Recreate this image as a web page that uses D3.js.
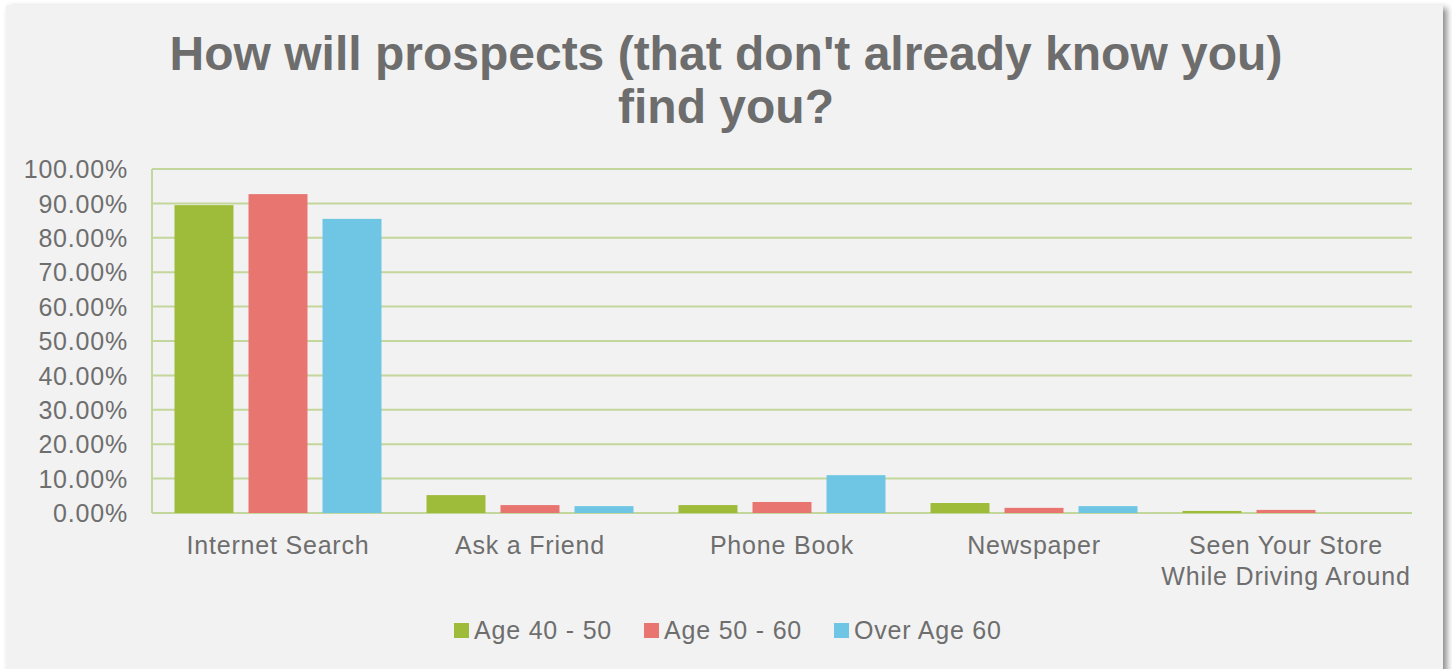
<!DOCTYPE html>
<html><head><meta charset="utf-8">
<script src="https://cdn.jsdelivr.net/npm/d3@7"></script>
<style>
html,body{margin:0;padding:0;background:#fff;overflow:hidden;}
svg{display:block;}
text{font-family:"Liberation Sans",Arial,sans-serif;}
</style></head>
<body>
<svg id="chart" width="1452" height="669"></svg>
<script>
const categories = ["Internet Search", "Ask a Friend", "Phone Book", "Newspaper", "Seen Your Store While Driving Around"];
const seriesNames = ["Age 40 - 50", "Age 50 - 60", "Over Age 60"];
const age40to50 = [0.895, 0.052, 0.023, 0.029, 0.006];
const age50to60 = [0.927, 0.023, 0.032, 0.015, 0.009];
const over60    = [0.855, 0.020, 0.110, 0.020, 0.000];
const yTicks = [0, 0.1, 0.2, 0.3, 0.4, 0.5, 0.6, 0.7, 0.8, 0.9, 1.0];
const colors = ["#9fbb3a", "#e8756f", "#6fc6e4"];
const titleLines = ["How will prospects (that don't already know you)", "find you?"];

const series = [age40to50, age50to60, over60];
const svg = d3.select("#chart");
const FS = 25, LS = 0.8;

// background panel with shadow
const defs = svg.append("defs");
const f = defs.append("filter").attr("id","sh").attr("x","-5%").attr("y","-5%").attr("width","110%").attr("height","110%");
f.append("feDropShadow").attr("dx",4).attr("dy",3).attr("stdDeviation",3).attr("flood-color","#000").attr("flood-opacity",0.45);
svg.append("rect").attr("x",6).attr("y",5).attr("width",1437).attr("height",700)
  .attr("fill","#f2f2f2").attr("filter","url(#sh)");

// title
svg.append("text").attr("x",726).attr("text-anchor","middle")
  .attr("font-size",48).attr("font-weight","bold").attr("fill","#6d6d6d")
  .selectAll("tspan").data(titleLines).join("tspan")
  .attr("x",726).attr("y",(d,i)=>70+i*53).text(d=>d);

const pLeft=152, pRight=1412, pTop=169, pBottom=513;
const x0 = d3.scaleBand().domain(categories).range([pLeft,pRight]).paddingInner(0).paddingOuter(0);
const x1 = d3.scaleBand().domain(d3.range(3)).range([0,x0.bandwidth()]).paddingInner(0.203).paddingOuter(0.304);
const y = d3.scaleLinear().domain([0,1]).range([pBottom,pTop]);

// gridlines
svg.append("g").selectAll("line").data(yTicks).join("line")
  .attr("x1",pLeft).attr("x2",pRight).attr("y1",d=>y(d)).attr("y2",d=>y(d))
  .attr("stroke","#c3d69b").attr("stroke-width",2);
// left axis line
svg.append("line").attr("x1",pLeft).attr("x2",pLeft).attr("y1",pTop).attr("y2",pBottom)
  .attr("stroke","#c3d69b").attr("stroke-width",2);

// y axis labels
const yAxis = d3.axisLeft(y).tickValues(yTicks).tickFormat(d=>(d*100).toFixed(2)+"%").tickSize(0).tickPadding(24);
const ya = svg.append("g").attr("transform",`translate(${pLeft},0)`).call(yAxis);
ya.select(".domain").remove();
ya.selectAll("text").attr("font-size",FS).attr("letter-spacing",LS).attr("fill","#6e6e6e")
  .attr("font-family","Liberation Sans, Arial, sans-serif").attr("dy","0.35em");

// bars
const g = svg.append("g");
categories.forEach((c,ci)=>{
  g.selectAll(null).data(series.map((s,si)=>({si,v:s[ci]}))).join("rect")
    .attr("x",d=>x0(c)+x1(d.si)).attr("width",x1.bandwidth())
    .attr("y",d=>y(d.v)).attr("height",d=>pBottom-y(d.v))
    .attr("fill",d=>colors[d.si]);
});

// x axis labels
const xa = svg.append("g");
categories.forEach(c=>{
  const cx = x0(c)+x0.bandwidth()/2;
  const t = xa.append("text").attr("text-anchor","middle").attr("font-size",FS).attr("letter-spacing",LS).attr("fill","#6e6e6e");
  let lines = c==="Seen Your Store While Driving Around" ? ["Seen Your Store","While Driving Around"] : [c];
  lines.forEach((l,i)=>t.append("tspan").attr("x",cx).attr("y",554+i*31).text(l));
});

// legend
const legendX = [454, 644, 834];
const lg = svg.append("g");
seriesNames.forEach((n,i)=>{
  lg.append("rect").attr("x",legendX[i]).attr("y",623).attr("width",15).attr("height",15).attr("fill",colors[i]);
  lg.append("text").attr("x",legendX[i]+20).attr("y",639).attr("font-size",FS).attr("letter-spacing",LS).attr("fill","#6e6e6e").text(n);
});
</script>
</body></html>
